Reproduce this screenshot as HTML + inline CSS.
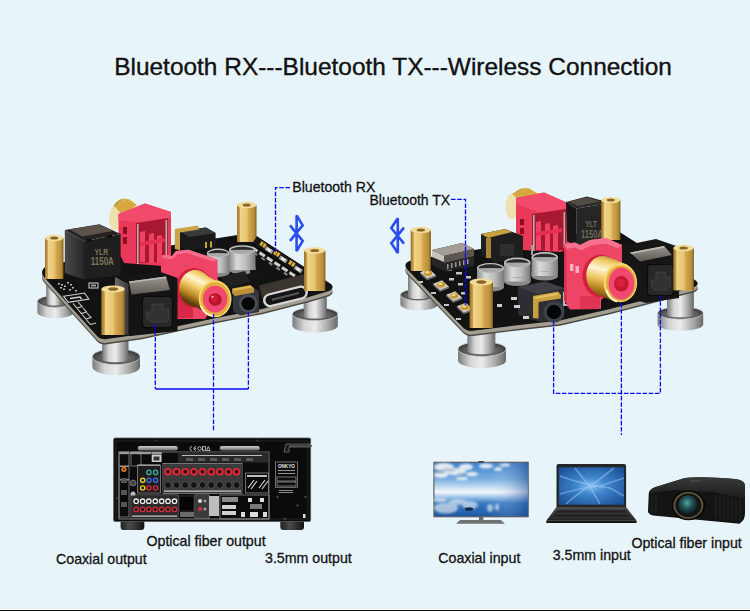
<!DOCTYPE html>
<html><head><meta charset="utf-8">
<style>
html,body{margin:0;padding:0;}
body{width:750px;height:611px;overflow:hidden;background:#e7f4fa;position:relative;}
svg{position:absolute;left:0;top:0;}
text{font-family:"Liberation Sans",sans-serif;fill:#111;}
.lbl{stroke:#111;stroke-width:0.28;}
</style></head>
<body>
<svg width="750" height="611" viewBox="0 0 750 611">
<defs>
 <linearGradient id="gold" x1="0" x2="1" y1="0" y2="0">
  <stop offset="0" stop-color="#9a7226"/><stop offset="0.13" stop-color="#c89e4a"/><stop offset="0.17" stop-color="#f0d48a"/><stop offset="0.5" stop-color="#e8c672"/><stop offset="0.6" stop-color="#d4a850"/><stop offset="0.88" stop-color="#b88e3c"/><stop offset="1" stop-color="#7e5c1a"/>
 </linearGradient>
 <linearGradient id="silver" x1="0" x2="1" y1="0" y2="0">
  <stop offset="0" stop-color="#7a7a7a"/><stop offset="0.25" stop-color="#d4d4d4"/><stop offset="0.5" stop-color="#ececec"/><stop offset="0.78" stop-color="#a8a8a8"/><stop offset="1" stop-color="#686868"/>
 </linearGradient>
 <radialGradient id="disctop" cx="0.5" cy="0.6" r="0.6">
  <stop offset="0" stop-color="#8a8a8a"/><stop offset="0.6" stop-color="#5c5c5c"/><stop offset="0.85" stop-color="#3c3c3c"/><stop offset="1" stop-color="#9a9a9a"/>
 </radialGradient>
 <linearGradient id="silverv" x1="0" x2="0" y1="0" y2="1">
  <stop offset="0" stop-color="#dcdcdc"/><stop offset="0.5" stop-color="#b4b4b4"/><stop offset="1" stop-color="#8a8a8a"/>
 </linearGradient>
 <linearGradient id="cap" x1="0" x2="1" y1="0" y2="0">
  <stop offset="0" stop-color="#8a8a8a"/><stop offset="0.3" stop-color="#dadada"/><stop offset="0.65" stop-color="#bcbcbc"/><stop offset="1" stop-color="#7a7a7a"/>
 </linearGradient>
 <linearGradient id="rcagold" x1="0" x2="1" y1="0" y2="1">
  <stop offset="0" stop-color="#8a6414"/><stop offset="0.35" stop-color="#f2d272"/><stop offset="0.6" stop-color="#fff0b8"/><stop offset="1" stop-color="#b08024"/>
 </linearGradient>
 <linearGradient id="sky" x1="0" x2="0" y1="0" y2="1">
  <stop offset="0" stop-color="#3a78c8"/><stop offset="0.35" stop-color="#8ab8e8"/><stop offset="0.5" stop-color="#eaf4fb"/><stop offset="0.62" stop-color="#9cc6ec"/><stop offset="1" stop-color="#1e5aa8"/>
 </linearGradient>
 <radialGradient id="lap" cx="0.55" cy="0.45" r="0.7">
  <stop offset="0" stop-color="#7ab8ec"/><stop offset="0.5" stop-color="#2f74c0"/><stop offset="1" stop-color="#123e78"/>
 </radialGradient>
 <radialGradient id="lens" cx="0.45" cy="0.45" r="0.6">
  <stop offset="0" stop-color="#4a8a8a"/><stop offset="0.6" stop-color="#1c3a3e"/><stop offset="1" stop-color="#0a1416"/>
 </radialGradient>
</defs>

<!-- ===== Title ===== -->
<text x="114.2" y="75.1" font-size="24.45" style="stroke:#111;stroke-width:0.35">Bluetooth RX---Bluetooth TX---Wireless Connection</text>

<!-- ===== Labels ===== -->
<text class="lbl" x="292.3" y="191.8" font-size="14.1">Bluetooth RX</text>
<text class="lbl" x="369.5" y="204.6" font-size="14">Bluetooth TX</text>
<text class="lbl" x="146.5" y="546" font-size="14.2">Optical fiber output</text>
<text class="lbl" x="56" y="563.7" font-size="14.2">Coaxial output</text>
<text class="lbl" x="265" y="563" font-size="14.2">3.5mm output</text>
<text class="lbl" x="438.3" y="563" font-size="14.2">Coaxial input</text>
<text class="lbl" x="552.7" y="560" font-size="14.2">3.5mm input</text>
<text class="lbl" x="631.4" y="547.8" font-size="14.2">Optical fiber input</text>

<!-- bottom rule -->
<rect x="0" y="609" width="750" height="1" fill="#f8fdff"/>
<rect x="0" y="610" width="750" height="1" fill="#151510"/>

<g id="LB">
 <!-- feet (behind board) -->
 <rect x="46.4" y="276" width="15.600000000000001" height="27.399999999999977" fill="url(#silver)"/>
 <path d="M37.4 301.4 L37.4 312.3 A18 6 0 0 0 73.4 312.3 L73.4 301.4 Z" fill="url(#silver)"/>
 <ellipse cx="55.4" cy="301.4" rx="18" ry="6" fill="url(#disctop)"/>
 <ellipse cx="55.4" cy="301.4" rx="18" ry="6" fill="none" stroke="#cfcfcf" stroke-width="0.8"/>
 <path d="M46.4 276 L46.4 303.5 A7.800000000000001 2.0999999999999996 0 0 0 62 303.5 L62 276 Z" fill="url(#silver)"/>
 <rect x="303.8" y="286" width="22.69999999999999" height="30" fill="url(#silver)"/>
 <path d="M292.40000000000003 314 L292.40000000000003 325.79999999999995 A22.7 6.6 0 0 0 337.8 325.79999999999995 L337.8 314 Z" fill="url(#silver)"/>
 <ellipse cx="315.1" cy="314" rx="22.7" ry="6.6" fill="url(#disctop)"/>
 <ellipse cx="315.1" cy="314" rx="22.7" ry="6.6" fill="none" stroke="#cfcfcf" stroke-width="0.8"/>
 <path d="M303.8 286 L303.8 316.31 A11.349999999999994 2.3099999999999996 0 0 0 326.5 316.31 L326.5 286 Z" fill="url(#silver)"/>
 <rect x="102.3" y="334" width="26.000000000000014" height="24.600000000000023" fill="url(#silver)"/>
 <path d="M92.4 356.6 L92.4 367 A23.8 8 0 0 0 140.0 367 L140.0 356.6 Z" fill="url(#silver)"/>
 <ellipse cx="116.2" cy="356.6" rx="23.8" ry="8" fill="url(#disctop)"/>
 <ellipse cx="116.2" cy="356.6" rx="23.8" ry="8" fill="none" stroke="#cfcfcf" stroke-width="0.8"/>
 <path d="M102.3 334 L102.3 359.40000000000003 A13.000000000000007 2.8 0 0 0 128.3 359.40000000000003 L128.3 334 Z" fill="url(#silver)"/>
 <!-- board rim + body -->
 <path d="M44 268 Q40 272 44 277 L97 336 Q101 340 107 339 L142 334 L172 327.5 L216 318 L262 309 L307 297.5 L329 291 Q335 288 331 284 L256 236 Q250 233 244 234 L52 264 Q46 265 44 268 Z" fill="#4a4740" transform="translate(0 5.2)"/>
 <path d="M44 268 Q40 272 44 277 L97 336 Q101 340 107 339 L142 334 L172 327.5 L216 318 L262 309 L307 297.5 L329 291 Q335 288 331 284 L256 236 Q250 233 244 234 L52 264 Q46 265 44 268 Z" fill="#a29e92" transform="translate(0 3.8)"/>
 <path d="M44 268 Q40 272 44 277 L97 336 Q101 340 107 339 L142 334 L172 327.5 L216 318 L262 309 L307 297.5 L329 291 Q335 288 331 284 L256 236 Q250 233 244 234 L52 264 Q46 265 44 268 Z" fill="#121212"/>

 <!-- silkscreen logo -->
 <g fill="none" stroke="#cfcfcf" stroke-width="1.1">
  <path d="M63.5 296.2 L84.5 293 L88.8 299 L68.3 302.4 Z"/>
  <path d="M70 298.5 L80 297 L81.5 299" stroke-width="1.6"/>
  <path d="M73 303.5 L77 308 L82 306.5 L78 302 M77.5 309 L81.5 313.5 L86.5 312 L82.5 307.5 M82 314.5 L86 319 L91 317.5 L87 313 M86.5 320 L90.5 324.5 L96 323"/>
 </g>
 <g fill="#b8b8b8">
  <rect x="58" y="283" width="2" height="1.5"/><rect x="61" y="284" width="2" height="1.5"/><rect x="64" y="285.5" width="2" height="1.5"/><rect x="60" y="287" width="2" height="1.5"/><rect x="63" y="288.5" width="2" height="1.5"/>
  <rect x="67" y="282" width="2" height="1.5"/><rect x="70" y="284" width="2" height="1.5"/><rect x="72" y="287" width="2" height="1.5"/><rect x="75" y="290" width="2" height="1.5"/><rect x="69" y="289" width="2" height="1.5"/>
 </g>
 <rect x="89" y="283" width="9" height="5" fill="none" stroke="#cfcfcf" stroke-width="1"/>
 <rect x="91" y="284.5" width="5" height="2" fill="#9a9a9a"/>
 <!-- back gold RCA -->
 <ellipse cx="125" cy="213" rx="13" ry="14.5" fill="url(#rcagold)"/>
 <ellipse cx="115" cy="218.5" rx="6" ry="12" fill="#efe0b0"/>
 <path d="M115 206.5 L128 199 L137 205 L122 215 Z" fill="#d8a840"/>
 <!-- back red connector -->
 <path d="M118.5 214 L145 203.5 L171 212 L171 258 L162 266 L124 263 L118.5 252 Z" fill="#ea3858"/>
 <path d="M118.5 214 L145 203.5 L171 212 L171 218 L144 223 L118.5 220 Z" fill="#f24a6a"/>
 <path d="M136 223 L168 218 L168 262 L136 263 Z" fill="#a81830"/>
 <path d="M140 232 L145 231 L145 262 L140 262 Z M149 234 L154 233 L154 263 L149 263 Z M157 236 L162 235 L162 263 L157 263 Z" fill="#f04262"/>
 <path d="M140 242 L165 238 L165 242 L140 246 Z" fill="#e63050"/>
 <rect x="137" y="224" width="1.6" height="40" fill="#b0b0b0"/>
 <rect x="165.5" y="220" width="1.6" height="40" fill="#b0b0b0"/>
 <rect x="123" y="227" width="4" height="7" fill="#8a1020"/><rect x="123" y="237" width="4" height="7" fill="#8a1020"/>
 <!-- transformer -->
 <linearGradient id="tfL" x1="0" x2="1"><stop offset="0" stop-color="#4a4a4a"/><stop offset="1" stop-color="#262626"/></linearGradient>
 <path d="M64.8 230 L84 241.3 L84 279.6 L64.8 273 Z" fill="url(#tfL)"/>
 <path d="M84 241.3 L120.6 234 L120.6 275.5 L84 279.6 Z" fill="#1f1f1f"/>
 <path d="M64.8 230 L99.4 224.3 L120.6 234 L84 241.3 Z" fill="#262422"/>
 <path d="M69.6 229.2 L99.4 224.8 L113 231 L82 236.5 Z" fill="#5a534a"/>
 <rect x="86.5" y="239" width="5" height="2.5" fill="#0c0c0c"/><rect x="107" y="235" width="5" height="2.5" fill="#0c0c0c"/>
 <text x="0" y="0" font-size="8.6" font-weight="bold" text-anchor="middle" transform="translate(101.3 254.6) scale(0.8 1)" style="fill:#7e775c">YLR</text>
 <text x="0" y="0" font-size="10.6" font-weight="bold" text-anchor="middle" transform="translate(102.3 264.8) scale(0.75 1)" style="fill:#7e775c">1150A</text>
 <!-- back black jack -->
 <path d="M179.6 231 L206 227.5 L215.6 233 L215.6 247.8 L186 250.5 L179.6 246 Z" fill="#1a1a1a"/>
 <path d="M179.6 231 L206 227.5 L215.6 233 L189 237 Z" fill="#3a3a3a"/>
 <path d="M174.8 229 L198 225.5 L199 229.5 L180 232.5 L180 250.2 L174.8 249 Z" fill="#caa248"/>
 <rect x="205" y="242" width="2" height="6" fill="#c8a040"/><rect x="210" y="241.5" width="2" height="6" fill="#c8a040"/>
 <!-- left standoff -->
 <rect x="45" y="238" width="18.5" height="41" fill="url(#gold)"/>
 <ellipse cx="54.2" cy="238" rx="9.2" ry="3.2" fill="#f2dc9c"/>
 <ellipse cx="54.2" cy="238" rx="4" ry="1.6" fill="#8a6424"/>

 <!-- back standoff -->
 <rect x="237" y="205" width="19.5" height="37" fill="url(#gold)"/>
 <ellipse cx="246.7" cy="205" rx="9.7" ry="3.2" fill="#f2dc9c"/>
 <ellipse cx="246.7" cy="205" rx="4" ry="1.6" fill="#8a6424"/>

 <!-- SMD row -->
 <g transform="translate(258.7 237.4) rotate(33.4)">
  <rect x="-2" y="0" width="60" height="17" fill="#161616"/>
  <rect x="4" y="1.2" width="7" height="5" fill="#3a3020"/><rect x="4.5" y="1.5" width="2.6" height="4.2" fill="#e0b040"/><rect x="7.9" y="1.5" width="2.6" height="4.2" fill="#e0b040"/>
  <rect x="20.5" y="1.2" width="7" height="5" fill="#3a3020"/><rect x="21.0" y="1.5" width="2.6" height="4.2" fill="#e0b040"/><rect x="24.4" y="1.5" width="2.6" height="4.2" fill="#e0b040"/>
  <rect x="38.5" y="1.2" width="7" height="5" fill="#3a3020"/><rect x="39.0" y="1.5" width="2.6" height="4.2" fill="#e0b040"/><rect x="42.4" y="1.5" width="2.6" height="4.2" fill="#e0b040"/>
  <rect x="11.5" y="3" width="8" height="3.6" fill="#e6e4e0"/><rect x="11.5" y="3" width="1.6" height="3.6" fill="#9a9a9a"/><rect x="17.9" y="3" width="1.6" height="3.6" fill="#9a9a9a"/>
  <rect x="28.5" y="3" width="8" height="3.6" fill="#e6e4e0"/><rect x="28.5" y="3" width="1.6" height="3.6" fill="#9a9a9a"/><rect x="34.9" y="3" width="1.6" height="3.6" fill="#9a9a9a"/>
  <rect x="46.5" y="3" width="8" height="3.6" fill="#e6e4e0"/><rect x="46.5" y="3" width="1.6" height="3.6" fill="#9a9a9a"/><rect x="52.9" y="3" width="1.6" height="3.6" fill="#9a9a9a"/>
  <rect x="-2" y="8.6" width="60" height="1.3" fill="#050505"/>
  <rect x="0" y="10.8" width="6.5" height="3" fill="#cfcdc8"/>
  <rect x="9" y="10.8" width="6.5" height="3" fill="#cfcdc8"/>
  <rect x="18" y="10.8" width="6.5" height="3" fill="#cfcdc8"/>
  <rect x="27" y="10.8" width="6.5" height="3" fill="#cfcdc8"/>
  <rect x="36" y="10.8" width="6.5" height="3" fill="#cfcdc8"/>
  <rect x="45" y="10.8" width="6.5" height="3" fill="#cfcdc8"/>
  <rect x="4.5" y="14.5" width="4" height="2" fill="#8a8a8a"/>
  <rect x="13.5" y="14.5" width="4" height="2" fill="#8a8a8a"/>
  <rect x="22.5" y="14.5" width="4" height="2" fill="#8a8a8a"/>
  <rect x="31.5" y="14.5" width="4" height="2" fill="#8a8a8a"/>
  <rect x="40.5" y="14.5" width="4" height="2" fill="#8a8a8a"/>
 </g>
 <!-- capacitors -->
 <rect x="206.8" y="253" width="22.69999999999999" height="20" fill="url(#cap)"/>
 <ellipse cx="218.15" cy="273" rx="11.349999999999994" ry="4.0" fill="#8a8a8a"/>
 <rect x="206.8" y="269" width="22.69999999999999" height="4" fill="url(#cap)"/>
 <ellipse cx="218.15" cy="253" rx="11.349999999999994" ry="4.4" fill="#c4c4c4"/>
 <ellipse cx="218.15" cy="253.4" rx="10.0" ry="3.5" fill="#a8a8a8"/>
 <path d="M208.3 253.3 A9.8 3.4 0 0 1 228.0 253.3 Q218.2 252.6 208.3 253.3 Z" fill="#2a2a2a"/>
 <rect x="229" y="249.8" width="26.5" height="20.19999999999999" fill="url(#cap)"/>
 <ellipse cx="242.25" cy="270" rx="13.25" ry="4.1" fill="#8a8a8a"/>
 <rect x="229" y="266" width="26.5" height="4" fill="url(#cap)"/>
 <ellipse cx="242.25" cy="249.8" rx="13.25" ry="4.6" fill="#c4c4c4"/>
 <ellipse cx="242.25" cy="250.20000000000002" rx="11.9" ry="3.7" fill="#a8a8a8"/>
 <path d="M230.5 250.10000000000002 A11.8 3.6 0 0 1 254.0 250.10000000000002 Q242.2 249.3 230.5 250.10000000000002 Z" fill="#2a2a2a"/>
 <!-- black chip -->
 <path d="M221 277 L245 271 L250 282 L226 289 Z" fill="#202020"/>
 <rect x="250" y="270" width="12" height="8" fill="#151515"/>

 <!-- USB-C -->
 <g transform="translate(284.5 292.5) rotate(-14)">
  <rect x="-23" y="-13" width="46" height="14" fill="#3b3530"/>
  <rect x="-23" y="-3" width="46" height="14" rx="7" fill="#d8d8d8"/>
  <rect x="-20.5" y="-0.8" width="41" height="9.6" rx="4.8" fill="#141414"/>
  <rect x="-14" y="3" width="28" height="2" fill="#555"/>
 </g>

 <!-- front red connector -->
 <path d="M161 256 L166 254.5 L172 256 L176 251 L188.4 249.7 L217.5 259.5 L218 300 L205 319 L168 319 L161 305 Z" fill="#ee4466"/>
 <path d="M161 256 L166 254.5 L172 256 L176 251 L188.4 249.7 L217.5 259.5 L213 261.5 L187 253 L177 254.5 L173 259 L165 258.5 Z" fill="#f4708a"/>
 <path d="M176 294 L193 294 L193 318 L176 318 Z" fill="#d82848"/>
 <!-- front gold RCA -->
 <linearGradient id="rcaL" gradientUnits="userSpaceOnUse" x1="213" y1="274" x2="197" y2="306"><stop offset="0" stop-color="#b88a2a"/><stop offset="0.15" stop-color="#f0cc68"/><stop offset="0.35" stop-color="#fff6d4"/><stop offset="0.55" stop-color="#f0cc68"/><stop offset="0.8" stop-color="#b88420"/><stop offset="1" stop-color="#5a3e0c"/></linearGradient>
 <ellipse cx="194" cy="288" rx="18" ry="20" fill="#d4203e"/>
 <ellipse cx="195.5" cy="288.5" rx="16.4" ry="18.5" fill="url(#rcaL)"/>
 <path d="M205.5 312.6 L185.7 301.3 L205.3 274.9 L225.1 286.2 Z" fill="url(#rcaL)"/>
 <ellipse cx="215.1" cy="298.8" rx="16.4" ry="18.5" fill="#f8d870"/>
 <ellipse cx="215.2" cy="299" rx="14.8" ry="16.8" fill="#e4ac3c"/>
 <path d="M201 306 A14 16 0 0 0 213 315.5" stroke="#fff6d0" stroke-width="2" fill="none"/>
 <ellipse cx="215.1" cy="299.1" rx="12.2" ry="13.4" fill="#f04870"/>
 <ellipse cx="215.2" cy="299.5" rx="6.6" ry="6.2" fill="#b81428"/>
 <circle cx="214.4" cy="298.8" r="3.6" fill="#d41c3a"/>
 <circle cx="212.5" cy="296.8" r="1" fill="#ffd0d8"/>

 <!-- 3.5mm jack -->
 <path d="M233 290 L250 286 L259 291 L259 312 L240 315.5 L233 311 Z" fill="#34363e"/>
 <path d="M232 288.5 L250.5 285 L254 288 L254 292.5 L235 296 L232 293 Z" fill="#c09038"/>
 <path d="M233 289 L250 285.8 L252 287.5 L235 290.8 Z" fill="#e0b858"/>
 <circle cx="248.3" cy="303.6" r="9.4" fill="#4a4e58"/>
 <circle cx="248.3" cy="303.6" r="6.7" fill="#070707"/>
 <!-- front optical -->
 <linearGradient id="optL" x1="0" x2="1"><stop offset="0" stop-color="#6a6a6a"/><stop offset="1" stop-color="#3a3a3a"/></linearGradient>
 <linearGradient id="optP" x1="0" x2="0" y1="0" y2="1"><stop offset="0" stop-color="#9a958e"/><stop offset="1" stop-color="#5e5a55"/></linearGradient>
 <path d="M115 277 L158 271 L177.5 278 L177.5 331 L130 336 L115 328 Z" fill="#141414"/>
 <path d="M115 277 L128.4 284 L128.4 335.5 L115 328 Z" fill="url(#optL)"/>
 <path d="M129 281.5 L166 276.5 L170 290 L131.5 294.5 Z" fill="url(#optP)"/>
 <path d="M129 281.5 L166 276.5 L166.5 278 L129.5 283 Z" fill="#c0bcb4"/>
 <rect x="142.5" y="296.3" width="30" height="31.3" rx="3" fill="#282828" stroke="#0a0a0a" stroke-width="1.2"/>
 <path d="M147 312 L147 318 L151 322 L166 322 L168.5 319 L168.5 309 L163 309 L163 304 L152 304 L152 312 Z" fill="#323232" stroke="#454545" stroke-width="0.8"/>
 <!-- front standoff -->
 <rect x="101.3" y="289" width="23.7" height="46" fill="url(#gold)"/>
 <ellipse cx="113.1" cy="289" rx="11.8" ry="3.6" fill="#f2dc9c"/>
 <ellipse cx="113.1" cy="289" rx="5" ry="1.8" fill="#8a6424"/>

 <!-- right standoff -->
 <rect x="304" y="250.5" width="21.4" height="40.5" fill="url(#gold)"/>
 <ellipse cx="314.7" cy="250.5" rx="10.7" ry="3.3" fill="#f2dc9c"/>
 <ellipse cx="314.7" cy="250.5" rx="4.5" ry="1.6" fill="#8a6424"/>
</g>

<g id="RB">
 <!-- feet -->
 <rect x="408" y="272" width="21" height="24.80000000000001" fill="url(#silver)"/>
 <path d="M400.4 294.8 L400.4 304.4 A18.6 6 0 0 0 437.6 304.4 L437.6 294.8 Z" fill="url(#silver)"/>
 <ellipse cx="419" cy="294.8" rx="18.6" ry="6" fill="url(#disctop)"/>
 <ellipse cx="419" cy="294.8" rx="18.6" ry="6" fill="none" stroke="#cfcfcf" stroke-width="0.8"/>
 <path d="M408 272 L408 296.90000000000003 A10.5 2.0999999999999996 0 0 0 429 296.90000000000003 L429 272 Z" fill="url(#silver)"/>
 <rect x="667.2" y="292" width="26.399999999999977" height="23" fill="url(#silver)"/>
 <path d="M657.6 313 L657.6 324.6 A22.8 6.2 0 0 0 703.1999999999999 324.6 L703.1999999999999 313 Z" fill="url(#silver)"/>
 <ellipse cx="680.4" cy="313" rx="22.8" ry="6.2" fill="url(#disctop)"/>
 <ellipse cx="680.4" cy="313" rx="22.8" ry="6.2" fill="none" stroke="#cfcfcf" stroke-width="0.8"/>
 <path d="M667.2 292 L667.2 315.17 A13.199999999999989 2.17 0 0 0 693.6 315.17 L693.6 292 Z" fill="url(#silver)"/>
 <rect x="467.6" y="330" width="27.599999999999966" height="21" fill="url(#silver)"/>
 <path d="M458 349 L458 360.6 A24 7.4 0 0 0 506 360.6 L506 349 Z" fill="url(#silver)"/>
 <ellipse cx="482" cy="349" rx="24" ry="7.4" fill="url(#disctop)"/>
 <ellipse cx="482" cy="349" rx="24" ry="7.4" fill="none" stroke="#cfcfcf" stroke-width="0.8"/>
 <path d="M467.6 330 L467.6 351.59 A13.799999999999983 2.59 0 0 0 495.2 351.59 L495.2 330 Z" fill="url(#silver)"/>
 <!-- board -->
 <path d="M408.5 261.5 Q403.5 263.5 406.5 268.5 L463 327.5 Q467 331.5 473 330.8 L515 325.5 L560 320.5 L610 309 L660 296 L694 287 Q701 284 695 280 L618 231 Q612 228 606 229 L415 259.5 Q410.5 260.5 408.5 261.5 Z" fill="#4a4740" transform="translate(0 5.2)"/>
 <path d="M408.5 261.5 Q403.5 263.5 406.5 268.5 L463 327.5 Q467 331.5 473 330.8 L515 325.5 L560 320.5 L610 309 L660 296 L694 287 Q701 284 695 280 L618 231 Q612 228 606 229 L415 259.5 Q410.5 260.5 408.5 261.5 Z" fill="#a29e92" transform="translate(0 3.8)"/>
 <path d="M408.5 261.5 Q403.5 263.5 406.5 268.5 L463 327.5 Q467 331.5 473 330.8 L515 325.5 L560 320.5 L610 309 L660 296 L694 287 Q701 284 695 280 L618 231 Q612 228 606 229 L415 259.5 Q410.5 260.5 408.5 261.5 Z" fill="#121212"/>

 <!-- left edge pads -->
 <g>
  <path d="M420 272.2 L429 268.7 L436 275.2 L427 278.7 Z" fill="#cfcac2"/>
  <path d="M420 272.2 L427 278.7 L436 275.2 L436 276.7 L427 280.2 L420 273.7 Z" fill="#7a7670"/>
  <ellipse cx="428" cy="273.2" rx="4" ry="2.8" fill="#c8962e"/><ellipse cx="427.4" cy="272.3" rx="2" ry="1.2" fill="#f6dc90"/>
  <path d="M433 283.8 L442 280.3 L449 286.8 L440 290.3 Z" fill="#cfcac2"/>
  <path d="M433 283.8 L440 290.3 L449 286.8 L449 288.3 L440 291.8 L433 285.3 Z" fill="#7a7670"/>
  <ellipse cx="441" cy="284.8" rx="4" ry="2.8" fill="#c8962e"/><ellipse cx="440.4" cy="283.90000000000003" rx="2" ry="1.2" fill="#f6dc90"/>
  <path d="M446.2 294.7 L455.2 291.2 L462.2 297.7 L453.2 301.2 Z" fill="#cfcac2"/>
  <path d="M446.2 294.7 L453.2 301.2 L462.2 297.7 L462.2 299.2 L453.2 302.7 L446.2 296.2 Z" fill="#7a7670"/>
  <ellipse cx="454.2" cy="295.7" rx="4" ry="2.8" fill="#c8962e"/><ellipse cx="453.59999999999997" cy="294.8" rx="2" ry="1.2" fill="#f6dc90"/>
  <path d="M456.8 306.2 L465.8 302.7 L472.8 309.2 L463.8 312.7 Z" fill="#cfcac2"/>
  <path d="M456.8 306.2 L463.8 312.7 L472.8 309.2 L472.8 310.7 L463.8 314.2 L456.8 307.7 Z" fill="#7a7670"/>
  <ellipse cx="464.8" cy="307.2" rx="4" ry="2.8" fill="#c8962e"/><ellipse cx="464.2" cy="306.3" rx="2" ry="1.2" fill="#f6dc90"/>
 </g>
 <g fill="#c4c4c4">
  <rect x="446" y="268" width="6" height="2.5"/><rect x="456" y="272" width="6" height="2.5"/><rect x="449" y="278" width="5" height="2.5"/><rect x="458" y="283" width="5" height="2.5"/><rect x="461" y="292" width="5" height="2.5"/>
  <rect x="438" y="262" width="6" height="2.5"/><rect x="452" y="262" width="5" height="2.5"/><rect x="466" y="276" width="5" height="2.5"/>
  <rect x="418" y="281" width="5" height="2"/><rect x="431" y="292" width="5" height="2"/><rect x="444" y="304" width="5" height="2"/><rect x="456" y="318" width="5" height="2"/>
 </g>
 <!-- back gold RCA -->
 <ellipse cx="525" cy="203.5" rx="14" ry="15.5" fill="url(#rcagold)"/>
 <ellipse cx="512" cy="206.5" rx="6.5" ry="13" fill="#efe0b0"/>
 <path d="M512 193.5 L528 188 L538.5 194 L522 204 Z" fill="#d8a840"/>
 <!-- back red connector -->
 <path d="M516 198 L544 192.5 L570 204 L570 247 L561 252 L522 250 L516 241 Z" fill="#ea3858"/>
 <path d="M516 198 L544 192.5 L570 204 L570 210 L543 214 L516 204 Z" fill="#f24a6a"/>
 <path d="M532 214 L566 209 L566 250 L532 251 Z" fill="#a81830"/>
 <path d="M536 222 L541 221 L541 250 L536 250 Z M545 224 L550 223 L550 251 L545 251 Z M553 226 L558 225 L558 251 L553 251 Z" fill="#f04262"/>
 <path d="M536 232 L562 228 L562 232 L536 236 Z" fill="#e63050"/>
 <rect x="533" y="215" width="1.6" height="36" fill="#b0b0b0"/>
 <rect x="563.5" y="212" width="1.6" height="36" fill="#b0b0b0"/>
 <rect x="520" y="219" width="4" height="6" fill="#8a1020"/><rect x="520" y="228" width="4" height="6" fill="#8a1020"/>
 <rect x="531" y="245" width="2" height="10" fill="#a0a0a0"/>
 <!-- transformer YLT -->
 <path d="M566 202 L576.2 208.5 L576.2 246 L567 241 Z" fill="#161616"/>
 <path d="M576.2 208.5 L611 203 L611 242 L576.2 246 Z" fill="#262626"/>
 <path d="M566 202 L587 196.5 L611 203 L576.2 208.5 Z" fill="#2e2a28"/>
 <path d="M569 201.5 L587 197.5 L600 201.5 L578 206 Z" fill="#544c46"/>
 <text x="0" y="0" font-size="8.2" font-weight="bold" text-anchor="middle" transform="translate(591.1 227.4) scale(0.8 1)" style="fill:#6e6a58">YLT</text>
 <text x="0" y="0" font-size="10.2" font-weight="bold" text-anchor="middle" transform="translate(592 238.3) scale(0.75 1)" style="fill:#6e6a58">1150A</text>
 <!-- back-right standoff -->
 <rect x="601.2" y="200" width="19.2" height="40" fill="url(#gold)"/>
 <ellipse cx="610.8" cy="200" rx="9.6" ry="3.1" fill="#f2dc9c"/>
 <ellipse cx="610.8" cy="200" rx="4" ry="1.5" fill="#8a6424"/>

 <!-- USB-C (side) -->
 <path d="M432 250 L462 243 L474 249 L474 266 L444 271 L432 265 Z" fill="#262626"/>
 <path d="M432 250 L462 243 L474 249 L444 256 Z" fill="#a49e96"/>
 <path d="M432 250 L444 256 L444 262 L432 257 Z" fill="#c8c4bc"/>
 <path d="M444 256 L474 249 L474 256 L444 263 Z" fill="#5a5652"/>
 <g fill="#9a9690"><rect x="447" y="264" width="1.5" height="5"/><rect x="451" y="263" width="1.5" height="5"/><rect x="455" y="262" width="1.5" height="5"/><rect x="459" y="261" width="1.5" height="5"/><rect x="463" y="260" width="1.5" height="5"/><rect x="467" y="259" width="1.5" height="5"/></g>
 <!-- back 3.5mm jack -->
 <path d="M481 234 L505 229 L523 236 L523 258 L496 263 L481 256 Z" fill="#1e1e1e"/>
 <path d="M481 234 L505 229 L512 232 L488 238 Z" fill="#c8a040"/>
 <rect x="486" y="238" width="5" height="20" fill="#c8a040" opacity="0.8"/>
 <rect x="500" y="244" width="14" height="12" fill="#2e2e2e"/>

 <!-- capacitors -->
 <rect x="531.5" y="257" width="26.5" height="19" fill="url(#cap)"/>
 <ellipse cx="544.75" cy="276" rx="13.25" ry="4.5" fill="#8a8a8a"/>
 <rect x="531.5" y="272" width="26.5" height="4" fill="url(#cap)"/>
 <ellipse cx="544.75" cy="257" rx="13.25" ry="5" fill="#c4c4c4"/>
 <ellipse cx="544.75" cy="257.4" rx="11.9" ry="4.1" fill="#a8a8a8"/>
 <path d="M533.0 257.3 A11.8 4.0 0 0 1 556.5 257.3 Q544.8 256.5 533.0 257.3 Z" fill="#2a2a2a"/>
 <rect x="504" y="262.5" width="26.5" height="19.0" fill="url(#cap)"/>
 <ellipse cx="517.25" cy="281.5" rx="13.25" ry="4.5" fill="#8a8a8a"/>
 <rect x="504" y="277.5" width="26.5" height="4" fill="url(#cap)"/>
 <ellipse cx="517.25" cy="262.5" rx="13.25" ry="5" fill="#c4c4c4"/>
 <ellipse cx="517.25" cy="262.9" rx="11.9" ry="4.1" fill="#a8a8a8"/>
 <path d="M505.5 262.8 A11.8 4.0 0 0 1 529.0 262.8 Q517.2 262.0 505.5 262.8 Z" fill="#2a2a2a"/>
 <rect x="477" y="268" width="27" height="19" fill="url(#cap)"/>
 <ellipse cx="490.5" cy="287" rx="13.5" ry="4.5" fill="#8a8a8a"/>
 <rect x="477" y="283" width="27" height="4" fill="url(#cap)"/>
 <ellipse cx="490.5" cy="268" rx="13.5" ry="5" fill="#c4c4c4"/>
 <ellipse cx="490.5" cy="268.4" rx="12.2" ry="4.1" fill="#a8a8a8"/>
 <path d="M478.5 268.3 A12.0 4.0 0 0 1 502.5 268.3 Q490.5 267.5 478.5 268.3 Z" fill="#2a2a2a"/>
 <!-- left standoff -->
 <rect x="410.7" y="230" width="20.2" height="41" fill="url(#gold)"/>
 <ellipse cx="420.8" cy="230" rx="10.1" ry="3.2" fill="#f2dc9c"/>
 <ellipse cx="420.8" cy="230" rx="4.2" ry="1.6" fill="#8a6424"/>

 <!-- front 3.5mm jack -->
 <path d="M518 287 L545 281.5 L564 288 L564 318 L541 322 L518 315 Z" fill="#2c2e34"/>
 <path d="M518 287 L545 281.5 L564 288 L538 294 Z" fill="#3e4046"/>
 <path d="M533 296 L558 291.5 L561 295 L561 298.5 L538.5 302 L538.5 318.5 L533 318 Z" fill="#c8a040"/>
 <path d="M534 297 L557 293 L558 295 L535 299 Z" fill="#e6c060"/>
 <circle cx="554" cy="312" r="10.6" fill="#3c4048"/>
 <circle cx="554" cy="312" r="7.2" fill="#060606"/>
 <g fill="#b8b8b8"><rect x="563" y="292" width="2" height="14"/><rect x="568" y="290" width="2" height="14"/><rect x="564" y="304" width="8" height="2"/></g>
 <g fill="#cfcfcf"><rect x="511" y="297" width="6" height="3"/><rect x="514" y="305" width="6" height="3"/><rect x="523" y="316" width="6" height="3"/><rect x="497" y="304" width="5" height="3"/></g>
 <!-- front optical -->
 <path d="M622 246 L656 239 L679 247 L679 298 L646 303 L622 296 Z" fill="#161616"/>
 <path d="M630 252.5 L664 246 L672 255 L640 261.5 Z" fill="url(#optP)"/>
 <path d="M630 252.5 L664 246 L665 247.5 L631.5 254 Z" fill="#c0bcb4"/>
 <rect x="647.5" y="264.5" width="26" height="31" rx="3" fill="#282828" stroke="#0a0a0a" stroke-width="1.2"/>
 <path d="M651.5 280 L651.5 286 L655 290 L667 290 L670 287 L670 277 L665.5 277 L665.5 272 L656 272 L656 280 Z" fill="#323232" stroke="#454545" stroke-width="0.8"/>
 <!-- front red connector -->
 <path d="M564 244 L575 242.5 L580 245 L590 240 L606 238 L622 245 L622 282 L601 300 L601 309 L570 309.5 L564 300 Z" fill="#ee4466"/>
 <path d="M564 244 L575 242.5 L580 245 L590 240 L606 238 L622 245 L618 248.5 L606 243.5 L591 245.5 L581 250.5 L575 247.5 L566 249 Z" fill="#f6728e"/>
 <path d="M564 244 L566 249 L567 306 L570 309.5 L564 300 Z" fill="#d8304e"/>
 <rect x="570" y="264" width="3.5" height="7" fill="#f8b0c0"/><rect x="575.5" y="266" width="3.5" height="7" fill="#f8b0c0"/>
 <path d="M580 296 L600 296 L600 309 L580 309 Z" fill="#e03454"/>
 <!-- front gold RCA -->
 <linearGradient id="rcaR" gradientUnits="userSpaceOnUse" x1="612" y1="256" x2="602" y2="298"><stop offset="0" stop-color="#b88a2a"/><stop offset="0.15" stop-color="#f0cc68"/><stop offset="0.35" stop-color="#fff6d4"/><stop offset="0.55" stop-color="#f0cc68"/><stop offset="0.8" stop-color="#b88420"/><stop offset="1" stop-color="#6a4a10"/></linearGradient>
 <ellipse cx="601" cy="276" rx="18.5" ry="21.5" fill="#d4203e"/>
 <ellipse cx="603" cy="275.5" rx="16.7" ry="19.5" fill="url(#rcaR)"/>
 <path d="M612.9 301.1 L595.5 293.8 L610.5 257.7 L627.9 265 Z" fill="url(#rcaR)"/>
 <ellipse cx="620.4" cy="282.8" rx="16.7" ry="19.5" fill="#f8d870"/>
 <ellipse cx="620.9" cy="283.2" rx="15" ry="17.8" fill="#e4ac3c"/>
 <path d="M606.5 290 A14 17 0 0 0 617 301.5" stroke="#fff6d0" stroke-width="2" fill="none"/>
 <ellipse cx="621.4" cy="283.5" rx="12.9" ry="16" fill="#f04870"/>
 <ellipse cx="621.3" cy="283.8" rx="7.3" ry="7.8" fill="#c41830"/>
 <circle cx="620.6" cy="283" r="4.2" fill="#dc2040"/>

 <!-- front standoff -->
 <rect x="469.6" y="282" width="23.4" height="46" fill="url(#gold)"/>
 <ellipse cx="481.3" cy="282" rx="11.7" ry="3.5" fill="#f2dc9c"/>
 <ellipse cx="481.3" cy="282" rx="5" ry="1.8" fill="#8a6424"/>

 <!-- right standoff -->
 <rect x="673.3" y="248" width="20.6" height="42.4" fill="url(#gold)"/>
 <ellipse cx="683.6" cy="248" rx="10.3" ry="3.2" fill="#f2dc9c"/>
 <ellipse cx="683.6" cy="248" rx="4.3" ry="1.6" fill="#8a6424"/>
</g>

<g id="RX">
 <defs>
  <linearGradient id="rxfoot" x1="0" x2="1"><stop offset="0" stop-color="#222"/><stop offset="0.4" stop-color="#4a4a4a"/><stop offset="1" stop-color="#111"/></linearGradient>
  <linearGradient id="bar" x1="0" x2="0" y1="0" y2="1"><stop offset="0" stop-color="#d0d0d0"/><stop offset="1" stop-color="#6a6a6a"/></linearGradient>
 </defs>
 <!-- feet -->
 <rect x="120.6" y="518" width="23.7" height="11.9" rx="3" fill="url(#rxfoot)"/>
 <rect x="280.3" y="518" width="23.7" height="11.9" rx="3" fill="url(#rxfoot)"/>
 <!-- body -->
 <rect x="113.6" y="438" width="197" height="83.5" rx="1.5" fill="#0b0b0b" stroke="#5a5a5a" stroke-width="0.8"/>
 <rect x="116" y="441" width="192" height="78" fill="none" stroke="#262626" stroke-width="1"/>
 <!-- handle bars -->
 <rect x="137.8" y="446" width="40" height="4.5" rx="2" fill="url(#bar)"/>
 <rect x="219.8" y="446" width="40" height="4.5" rx="2" fill="url(#bar)"/>
 <g fill="none" stroke="#d8d8d8" stroke-width="0.8"><path d="M192 446.5 A2 2 0 1 0 192 450.5"/><path d="M196 446.5 A2 2 0 1 0 196 450.5 M194.5 448.5 L196 448.5"/><circle cx="199.5" cy="448.5" r="1.8"/><rect x="202.5" y="446.7" width="3.2" height="3.6"/><path d="M206.5 450.5 L208.3 446.5 L210 450.5 Z"/></g>
 <!-- power cord -->
 <path d="M286 444 L310 444 L310 447 L289 447 L289 452 L284 452 Z" fill="#1a1a1a" stroke="#7a7a7a" stroke-width="0.8"/>
 <path d="M289 446 L312 446" stroke="#555" stroke-width="1.6"/>
 <!-- main panel outline -->
 <g fill="none" stroke="#9a9a9a" stroke-width="0.7">
  <rect x="119" y="452" width="150" height="67"/>
  <rect x="119" y="452" width="10" height="65"/>
  <rect x="131" y="452" width="10" height="14"/>
  <rect x="137.5" y="465" width="23" height="28"/>
  <rect x="163" y="463.5" width="79" height="30"/>
  <rect x="245.5" y="473" width="23" height="20"/>
  <rect x="131" y="495" width="47" height="23.5"/>
  <rect x="195" y="495" width="14" height="23"/>
  <rect x="220" y="495" width="49" height="24"/>
  <rect x="275.4" y="462" width="22" height="25.3"/>
 </g>
 <g fill="#9a9a9a">
  <rect x="119.5" y="452" width="9.5" height="2.2"/><rect x="130" y="452" width="11" height="2.2"/><rect x="138" y="452" width="13" height="2.2"/><rect x="151.5" y="452" width="10.5" height="2.2"/>
  <rect x="138" y="464.5" width="22" height="2"/><rect x="119.5" y="465.5" width="9.5" height="1.5"/><rect x="119.5" y="479" width="9.5" height="1.5"/>
  <rect x="164" y="463.8" width="77" height="1.8"/>
 </g>
 <!-- top module strip -->
 <rect x="178" y="452.5" width="90" height="10" fill="#2a2a2a"/>
 <rect x="182" y="455" width="80" height="1" fill="#bdbdbd"/>
 <rect x="186" y="458" width="7" height="3" fill="#5a5a5a"/><rect x="198" y="458" width="7" height="3" fill="#5a5a5a"/><rect x="210" y="458" width="7" height="3" fill="#5a5a5a"/><rect x="222" y="458" width="7" height="3" fill="#5a5a5a"/><rect x="234" y="458" width="7" height="3" fill="#5a5a5a"/><rect x="246" y="458" width="7" height="3" fill="#5a5a5a"/>
 <!-- ethernet -->
 <rect x="151.7" y="454.6" width="9.8" height="7.4" fill="#cfcfcf"/>
 <rect x="153.5" y="456.5" width="6" height="4" fill="#333"/>
 <!-- left column -->
 <circle cx="123.9" cy="469.3" r="2.6" fill="#e07a20"/><circle cx="123.9" cy="469.3" r="1" fill="#222"/>
 <rect x="121" y="478" width="6" height="5" fill="#555"/><rect x="121" y="490" width="6" height="5" fill="#555"/><rect x="121" y="502" width="6" height="5" fill="#555"/>
 <circle cx="133" cy="483" r="3" fill="#444" stroke="#999" stroke-width="0.6"/>
 <circle cx="133" cy="494" r="2.5" fill="#bbb"/>
 <!-- component video -->
 <rect x="138" y="466" width="22" height="26" fill="#1e1e1e"/>
 <g stroke-width="1.4" fill="#1a1a1a">
  <circle cx="148.9" cy="472.4" r="2.1" stroke="#3aa894"/><circle cx="155.6" cy="472.4" r="2.1" stroke="#3aa894"/>
  <circle cx="142.7" cy="480.3" r="2.1" stroke="#e8d020"/><circle cx="148.9" cy="480.3" r="2.1" stroke="#3a6ad8"/><circle cx="155.6" cy="480.3" r="2.1" stroke="#3a6ad8"/>
  <circle cx="142.7" cy="488" r="2.1" stroke="#e8d020"/><circle cx="148.9" cy="488" r="2.1" stroke="#d82a3a"/><circle cx="155.6" cy="488" r="2.1" stroke="#d82a3a"/>
 </g>
 <!-- speaker terminals -->
 <rect x="163.5" y="464" width="78" height="29" fill="#3a3a3a"/>
 <g stroke="#e02838" stroke-width="1.9" fill="#3a1010">
  <circle cx="168" cy="471.8" r="2.9"/><circle cx="176.6" cy="471.8" r="2.9"/><circle cx="185.2" cy="471.8" r="2.9"/><circle cx="193.9" cy="471.8" r="2.9"/><circle cx="202.5" cy="471.8" r="2.9"/><circle cx="211.2" cy="471.8" r="2.9"/><circle cx="219.8" cy="471.8" r="2.9"/><circle cx="228.6" cy="471.8" r="2.9"/><circle cx="236.6" cy="471.8" r="2.9"/>
 </g>
 <g fill="#121212" stroke="#6a6a6a" stroke-width="0.6">
  <circle cx="168" cy="485" r="3.3"/><circle cx="176.6" cy="485" r="3.3"/><circle cx="185.2" cy="485" r="3.3"/><circle cx="193.9" cy="485" r="3.3"/><circle cx="202.5" cy="485" r="3.3"/><circle cx="211.2" cy="485" r="3.3"/><circle cx="219.8" cy="485" r="3.3"/><circle cx="228.6" cy="485" r="3.3"/><circle cx="236.6" cy="485" r="3.3"/>
 </g>
 <rect x="164" y="490.5" width="77" height="1.2" fill="#cfcfcf"/>
 <!-- right box with connector drawings -->
 <path d="M248 488 L254 480 M251 489 L257 481 M259 488 L265 480 M262 489 L268 481" stroke="#cfcfcf" stroke-width="1.2"/>
 <rect x="247" y="475" width="20" height="2" fill="#bdbdbd"/>
 <!-- lower RCA block -->
 <rect x="131.5" y="495.5" width="46" height="23" fill="#2a2a2a"/>
 <g stroke="#e8e8e8" stroke-width="1.3" fill="#1a1a1a">
  <circle cx="136.2" cy="501.2" r="2.2"/><circle cx="142.6" cy="501.2" r="2.2"/><circle cx="148.8" cy="501.2" r="2.2"/><circle cx="155.3" cy="501.2" r="2.2"/><circle cx="161.7" cy="501.2" r="2.2"/><circle cx="168" cy="501.2" r="2.2"/><circle cx="174.5" cy="501.2" r="2.2"/>
 </g>
 <g stroke="#d82a3a" stroke-width="1.3" fill="#1a1a1a">
  <circle cx="136.2" cy="509.4" r="2.2"/><circle cx="142.6" cy="509.4" r="2.2"/><circle cx="148.8" cy="509.4" r="2.2"/><circle cx="155.3" cy="509.4" r="2.2"/><circle cx="161.7" cy="509.4" r="2.2"/><circle cx="168" cy="509.4" r="2.2"/><circle cx="174.5" cy="509.4" r="2.2"/>
 </g>
 <rect x="132" y="515.5" width="45" height="1.2" fill="#cfcfcf"/>
 <!-- middle lower -->
 <rect x="179" y="496" width="15" height="15" fill="#050505" stroke="#555" stroke-width="0.5"/>
 <rect x="180" y="512" width="14" height="5" fill="#6a6a6a"/>
 <rect x="196" y="496" width="12" height="22" fill="#3a3a3a"/>
 <circle cx="200" cy="501" r="2" fill="#ddd"/><circle cx="200" cy="509" r="2" fill="#d82a3a"/><circle cx="205" cy="501" r="1.6" fill="#999"/><circle cx="205" cy="509" r="1.6" fill="#999"/>
 <rect x="209" y="496" width="10" height="20" fill="#bdbdbd"/>
 <!-- lower right -->
 <rect x="222" y="497" width="16" height="5" fill="#8a8a8a"/>
 <rect x="222" y="505" width="14" height="4" fill="#cfcfcf"/><rect x="222" y="511" width="14" height="4" fill="#cfcfcf"/>
 <rect x="248" y="498" width="4" height="4" fill="#ddd"/><rect x="260" y="498" width="4" height="4" fill="#ddd"/>
 <rect x="250" y="504" width="12" height="5" fill="#7a7a7a"/>
 <rect x="241" y="512" width="4" height="5" fill="#ddd"/><rect x="250" y="512" width="8" height="5" fill="#ddd"/><rect x="263" y="512" width="4" height="5" fill="#ddd"/>
 <!-- onkyo panel -->
 <text x="286.4" y="467.5" font-size="4.6" text-anchor="middle" font-weight="bold" style="fill:#e8e8e8">ONKYO</text>
 <rect x="278" y="470" width="17" height="0.8" fill="#bbb"/><rect x="278" y="473" width="17" height="0.8" fill="#bbb"/>
 <rect x="277" y="477" width="19" height="4" fill="none" stroke="#bbb" stroke-width="0.6"/>
 <rect x="277" y="482" width="19" height="4" fill="none" stroke="#bbb" stroke-width="0.6"/>
 <rect x="279" y="490" width="14" height="0.8" fill="#aaa"/><rect x="279" y="492" width="14" height="0.8" fill="#aaa"/>
 <rect x="303" y="514" width="2.5" height="4" fill="#ddd"/>
 <g fill="#444">
  <circle cx="156.5" cy="440.5" r="1"/><circle cx="257.5" cy="440.5" r="1"/><circle cx="277.5" cy="497" r="1.2"/><circle cx="305.5" cy="497" r="1.2"/><circle cx="297.5" cy="505.5" r="1.2"/><circle cx="285" cy="519" r="1.2"/><circle cx="117" cy="498" r="1"/>
 </g>
</g>

<g id="DEV">
 <defs>
  <linearGradient id="tvsky" x1="0" x2="0" y1="0" y2="1">
   <stop offset="0" stop-color="#3f82cc"/><stop offset="0.3" stop-color="#78ade0"/><stop offset="0.48" stop-color="#cfe3f3"/><stop offset="0.55" stop-color="#f4f8fb"/><stop offset="0.63" stop-color="#aaccec"/><stop offset="0.75" stop-color="#3a7cc4"/><stop offset="1" stop-color="#1f5aa6"/>
  </linearGradient>
  <radialGradient id="lapscr" cx="0.5" cy="0.5" r="0.65">
   <stop offset="0" stop-color="#82c0f0"/><stop offset="0.35" stop-color="#3f86cc"/><stop offset="1" stop-color="#1b4f96"/>
  </radialGradient>
  <linearGradient id="lapbase" x1="0" x2="0" y1="0" y2="1"><stop offset="0" stop-color="#4a4a4a"/><stop offset="0.8" stop-color="#2e2e2e"/><stop offset="1" stop-color="#1c1c1c"/></linearGradient>
  <radialGradient id="plens" cx="0.45" cy="0.4" r="0.6">
   <stop offset="0" stop-color="#5aa4a4"/><stop offset="0.45" stop-color="#24565a"/><stop offset="1" stop-color="#0c1a1c"/>
  </radialGradient>
  <filter id="blur1" x="-20%" y="-20%" width="140%" height="140%"><feGaussianBlur stdDeviation="0.9"/></filter>
  <filter id="blur06" x="-20%" y="-20%" width="140%" height="140%"><feGaussianBlur stdDeviation="0.6"/></filter>
  <linearGradient id="ptop" x1="0" x2="0" y1="0" y2="1"><stop offset="0" stop-color="#3a3a3a"/><stop offset="1" stop-color="#1a1a1a"/></linearGradient>
 </defs>
 <!-- TV -->
 <rect x="433.3" y="461.7" width="95.5" height="55.6" fill="#5e5e60"/>
 <rect x="434.5" y="462.9" width="93.1" height="53.2" fill="url(#tvsky)"/>
 <linearGradient id="tvside" x1="0" x2="1"><stop offset="0" stop-color="#ffffff" stop-opacity="0"/><stop offset="0.6" stop-color="#ffffff" stop-opacity="0"/><stop offset="1" stop-color="#0a3c8a" stop-opacity="0.45"/></linearGradient>
 <rect x="434.5" y="462.9" width="93.1" height="53.2" fill="url(#tvside)"/>
 <g fill="#f4f6f8" opacity="0.9" filter="url(#blur1)">
  <ellipse cx="444" cy="467" rx="10" ry="4"/><ellipse cx="455" cy="471.5" rx="11" ry="3.6"/><ellipse cx="466" cy="467" rx="7" ry="3.2"/><ellipse cx="441" cy="475" rx="7" ry="2.8"/><ellipse cx="472" cy="474" rx="6" ry="2"/><ellipse cx="486" cy="466" rx="7" ry="2.4"/><ellipse cx="498" cy="469" rx="4" ry="1.8"/><ellipse cx="462" cy="478.5" rx="6" ry="1.6"/><ellipse cx="505" cy="465" rx="5" ry="1.5"/>
 </g>
 <g fill="#8898a8" opacity="0.45" filter="url(#blur1)">
  <ellipse cx="449" cy="470" rx="7" ry="2.2"/><ellipse cx="440" cy="472" rx="4" ry="1.5"/><ellipse cx="461" cy="474" rx="4" ry="1.3"/>
 </g>
 <g fill="#e8eef4" opacity="0.65" filter="url(#blur1)">
  <ellipse cx="446" cy="508" rx="12" ry="5.5"/><ellipse cx="458" cy="502" rx="10" ry="3"/><ellipse cx="440" cy="500" rx="7" ry="2.2"/><ellipse cx="470" cy="505" rx="8" ry="4"/><ellipse cx="490" cy="508" rx="3" ry="4"/><ellipse cx="497" cy="507" rx="2" ry="3.5"/>
 </g>
 <ellipse cx="469" cy="509" rx="4.2" ry="1.8" fill="#16284a"/>
 <rect x="478.4" y="461" width="5.6" height="1.6" fill="#4a4a4a"/>
 <rect x="479" y="517" width="4.3" height="3.5" fill="#6a6a6a"/>
 <path d="M460 520 L500.8 520 L505 523.8 L456 523.8 Z" fill="#727272"/>
 <!-- Laptop -->
 <path d="M556.5 466 Q556.5 464.1 558.5 464.1 L624.1 464.1 Q626.1 464.1 626.1 466 L626.1 507 L556.5 507 Z" fill="#262626"/>
 <rect x="558.9" y="467.3" width="65.1" height="37.4" fill="url(#lapscr)"/>
 <g stroke="#a8d4f6" stroke-width="1.6" opacity="0.45" fill="none" filter="url(#blur06)">
  <path d="M560 476 Q580 484 610 488 L624 496"/><path d="M566 504 Q582 490 596 482 L614 468"/><path d="M560 494 Q585 487 600 486 L624 478"/><path d="M575 468 L590 487 L600 504"/>
 </g>
 <path d="M556.5 507 L626.1 507 L636.6 520.8 L546.3 520.8 Z" fill="url(#lapbase)"/>
 <path d="M546.3 520.8 L636.6 520.8 L636.6 522.9 L546.3 522.9 Z" fill="#161616"/>
 <g fill="#242424">
  <path d="M558 510 L625 510 L628 513 L555 513 Z"/><path d="M555 514 L628 514 L630.5 517 L552.5 517 Z"/>
 </g>
 <!-- Projector -->
 <path d="M648.8 493 Q650 488 659 486 L684 478.2 Q700 476 735 479 Q744 480 745 485 L745 513 Q745 520 741 522.2 L739.7 523.7 L653 515.6 Q648 514 648 511 Z" fill="#141414"/>
 <path d="M648.8 493 Q650 488 659 486 L684 478.2 Q700 476 735 479 Q744 480 745 485 L745 498.7 L713 492 L673.7 490 Z" fill="url(#ptop)"/>
 <g stroke="#262626" stroke-width="1">
  <path d="M716 495 L716 518 M720 495.5 L720 519 M724 496 L724 519.5 M728 497 L728 520 M732 497.5 L732 520.5 M736 498 L736 521 M740 498.5 L740 521"/>
  <path d="M652 496 L652 512 M656 495 L656 513"/>
 </g>
 <ellipse cx="688.4" cy="505.3" rx="17" ry="15" fill="#070707"/>
 <ellipse cx="688.4" cy="505.3" rx="15" ry="13.5" fill="#5e5238"/>
 <ellipse cx="688.4" cy="505.3" rx="13" ry="11.8" fill="#141414"/>
 <circle cx="688" cy="504.8" r="9.5" fill="url(#plens)"/>
 <rect x="690" y="480.5" width="10" height="1" fill="#555"/>
</g>

<g id="LINES" fill="none" stroke="#0a0aff" stroke-width="1.3">
 <!-- Bluetooth icons -->
 <path d="M290 225.4 L302.7 240.9 L296.6 251.2 L296.6 215.4 L302.7 225.4 L290 240.9" stroke="#2a4ef0" stroke-width="2.6" stroke-linejoin="miter" stroke-miterlimit="3"/>
 <path d="M404 227.6 L391.3 243.2 L397.8 253 L397.8 218.3 L391.3 228 L404 243.6" stroke="#2a4ef0" stroke-width="2.6" stroke-linejoin="miter" stroke-miterlimit="3"/>
 <g stroke-dasharray="4.6 1.6">
  <path d="M290 187.6 L275.5 187.6 L275.5 251.8"/>
  <path d="M451 199.3 L465.5 199.3 L465.5 305.5"/>
  <path d="M155.3 324.5 L155.3 389"/>
  <path d="M248.4 312 L248.4 389"/>
  <path d="M213.5 314 L213.5 431"/>
  <path d="M553.6 321 L553.6 393.3 L660.4 393.3 L660.4 296"/>
  <path d="M621.4 303 L621.4 435"/>
 </g>
 <path d="M155.3 389 L248.4 389"/>
</g>

</svg>
</body></html>
